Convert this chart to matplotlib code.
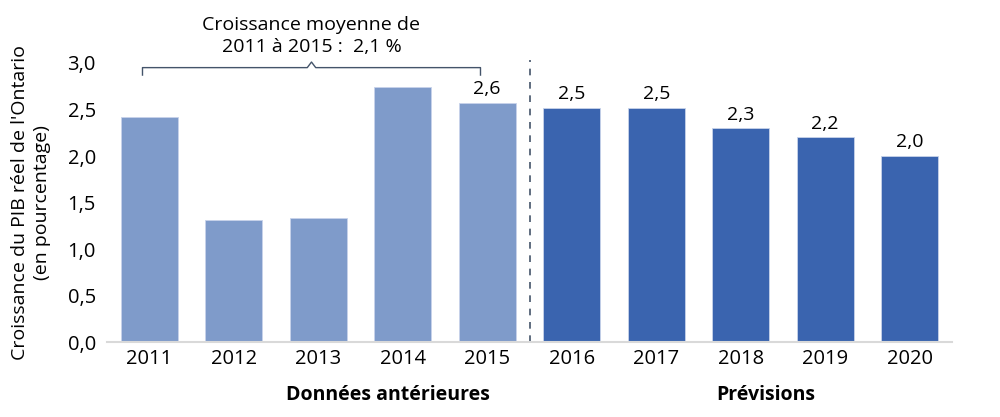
import matplotlib
matplotlib.use('Agg')
import matplotlib.pyplot as plt

years = ['2011', '2012', '2013', '2014', '2015', '2016', '2017', '2018', '2019', '2020']
growth = [2.42, 1.31, 1.34, 2.74, 2.57, 2.52, 2.52, 2.30, 2.20, 2.00]
labels = ['', '', '', '', '2,6', '2,5', '2,5', '2,3', '2,2', '2,0']
n_hist = 5

light = '#7f9bca'
dark = '#3a64af'

plt.rcParams['font.family'] = ['Open Sans', 'DejaVu Sans']
fs = 14

fig = plt.figure(figsize=(10, 4.17), dpi=100)
ax = fig.add_axes([0.107, 0.179, 0.845, 0.670])

x = list(range(len(years)))
colors = [light] * n_hist + [dark] * (len(years) - n_hist)
bars = ax.bar(x, growth, width=0.67, color=colors, edgecolor='#c8d3ea', linewidth=0.6)

for b, lab in zip(bars, labels):
    if lab:
        ax.text(b.get_x() + b.get_width() / 2, b.get_height() + 0.05, lab,
                ha='center', va='bottom', fontsize=fs)

ax.set_xlim(-0.5, len(years) - 0.5)
ax.set_ylim(0, 3.0)
ax.set_xticks(x)
ax.set_xticklabels(years, fontsize=14.5)
ax.set_yticks([0, 0.5, 1.0, 1.5, 2.0, 2.5, 3.0])
ax.set_yticklabels(['0,0', '0,5', '1,0', '1,5', '2,0', '2,5', '3,0'], fontsize=14.5)
ax.tick_params(axis='x', length=0, pad=5)
ax.tick_params(axis='y', length=0, pad=8)
for s in ['top', 'right', 'left']:
    ax.spines[s].set_visible(False)
ax.spines['bottom'].set_color('#d9d9d9')
ax.spines['bottom'].set_linewidth(1.5)

ax.set_ylabel("Croissance du PIB réel de l'Ontario\n(en pourcentage)", fontsize=fs,
              labelpad=12, linespacing=1.25)

# separator between history and forecast
ax.plot([n_hist - 0.5, n_hist - 0.5], [0, 3.03], ls=(0, (4, 4)), color='#44546a', lw=1.2, clip_on=False)

# bracket over 2011-2015
bl, br, bm = -0.08, 3.92, 1.92
ax.plot([bl, bl, bm - 0.05, bm, bm + 0.05, br, br], [2.87, 2.95, 2.95, 3.01, 2.95, 2.95, 2.87],
        color='#44546a', lw=1.0, clip_on=False)
ax.text(bm, 3.29, 'Croissance moyenne de\n2011 à 2015 :  2,1 %', ha='center', va='center',
        fontsize=fs, linespacing=1.3)

ax.text(2.83, -0.57, 'Données antérieures', ha='center', va='center', fontsize=fs, fontweight='bold')
ax.text(7.3, -0.57, 'Prévisions', ha='center', va='center', fontsize=fs, fontweight='bold')

fig.savefig('out.png', dpi=100)
